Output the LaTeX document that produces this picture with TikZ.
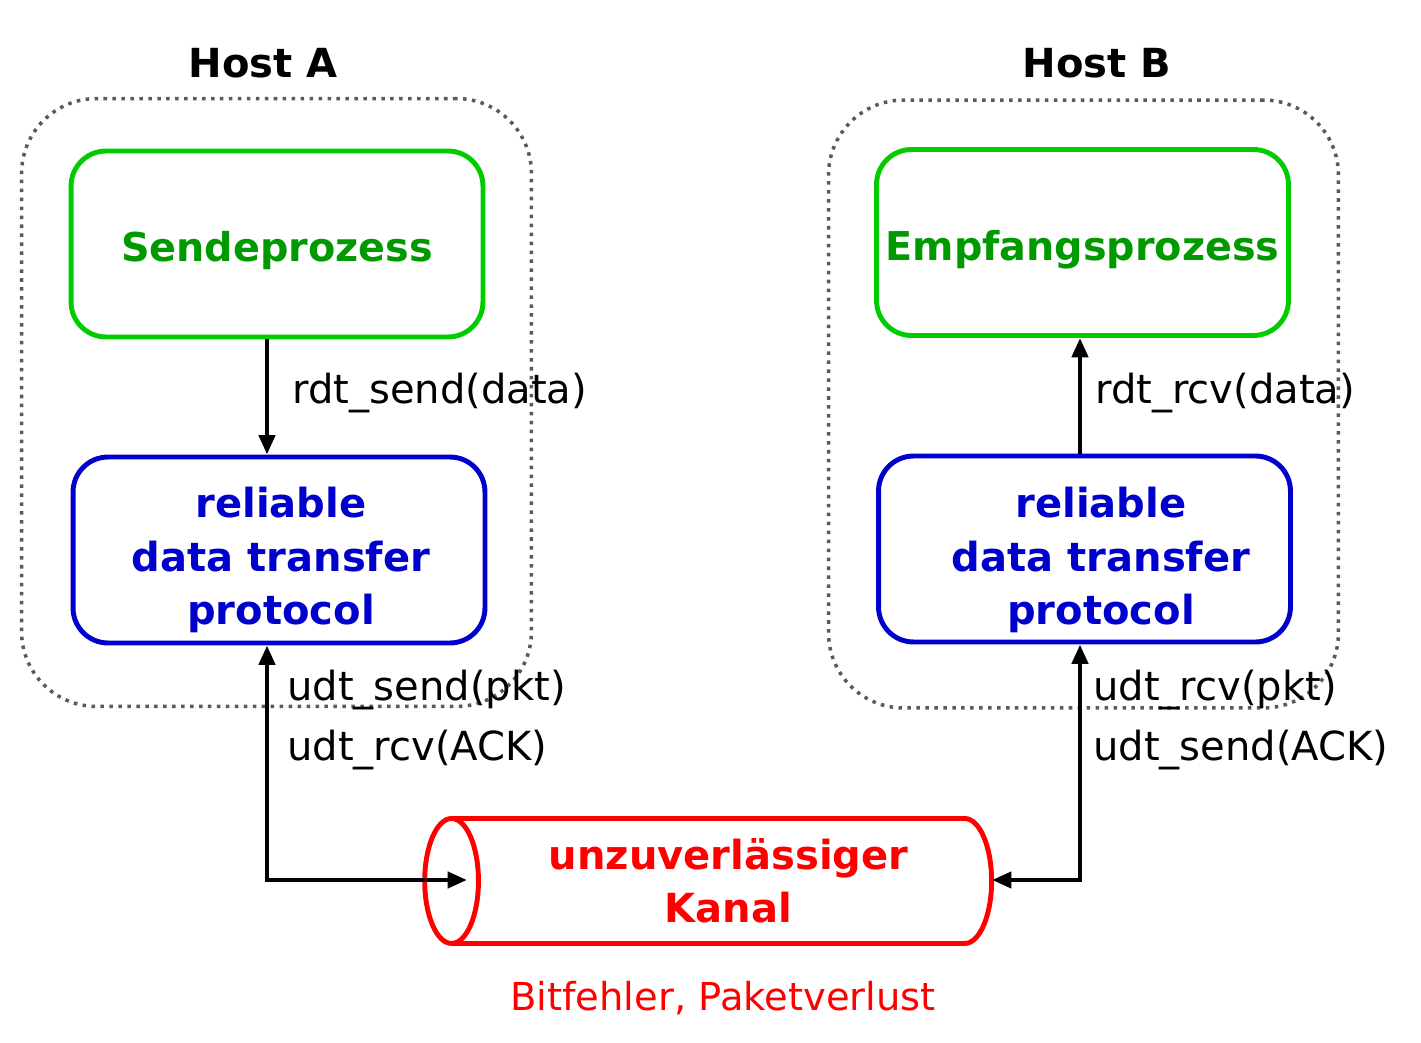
\documentclass[tikz,border=0pt]{standalone}
\usepackage{fontspec}
\setmainfont{DejaVu Sans}
\usetikzlibrary{shapes.geometric,arrows.meta}
\definecolor{procgreen}{RGB}{0,204,0}
\definecolor{proctext}{RGB}{0,153,0}
\definecolor{rdtblue}{RGB}{0,0,204}
\definecolor{hostgray}{RGB}{90,90,90}
\definecolor{kanalred}{RGB}{255,0,0}

\begin{document}
\begin{tikzpicture}[x=0.02cm, y=-0.02cm,
	>={Triangle[length=11pt,width=9pt]},
	hosttitle/.style={inner sep=0, font=\fontsize{22.8}{26}\selectfont\bfseries},
	hostbox/.style={draw=hostgray, line width=2pt, dash pattern=on 2pt off 3.1pt,
		rounded corners=1.5cm, minimum width=10.2cm, minimum height=12.16cm},
	procbox/.style={draw=procgreen, line width=2.8pt, rounded corners=0.7cm,
		minimum width=8.24cm, minimum height=3.72cm, text=proctext,
		font=\fontsize{22.6}{26}\selectfont\bfseries},
	rdtbox/.style={draw=rdtblue, line width=2.8pt, rounded corners=0.7cm,
		minimum width=8.24cm, minimum height=3.72cm},
	rdttext/.style={text=rdtblue, align=center, inner sep=0,
		font=\fontsize{22.8}{30.4}\selectfont\bfseries},
	lbl/.style={anchor=west, inner sep=0, align=left, font=\fontsize{22.8}{34.7}\selectfont},
	conn/.style={line width=2.6pt}
]
\useasboundingbox (0,0) rectangle (1421,1043);

% hosts
\node[hosttitle] (titleA) at (263,63) {Host A};
\node[hosttitle] (titleB) at (1097,63) {Host B};
\node[hostbox] (hostA) at (276.5,402.5) {};
\node[hostbox] (hostB) at (1083.5,404) {};

% processes and protocols
\node[procbox] (sende) at (277,244) {\raisebox{-10pt}[0pt][0pt]{Sendeprozess}};
\node[procbox] (empf) at (1082.5,242.5) {\raisebox{-10pt}[0pt][0pt]{Empfangsprozess}};
\node[rdtbox] (rdtA) at (279,550) {};
\node[rdttext] at (281,560) {reliable\\data transfer\\protocol};
\node[rdtbox] (rdtB) at (1084.5,549) {};
\node[rdttext] at (1101,560) {reliable\\data transfer\\protocol};

% channel
\node[cylinder, shape border rotate=180, draw=kanalred, line width=2.8pt, aspect=0.56,
	minimum height=11.34cm, minimum width=2.5cm, text=kanalred, align=center,
	font=\fontsize{22.8}{30}\selectfont\bfseries] (kanal) at (728.5,881)
	{unzuverlässiger\\Kanal};
\node[text=kanalred, inner sep=0, font=\fontsize{21.9}{26}\selectfont] (fehler) at (723,998)
	{Bitfehler, Paketverlust};

\coordinate (cA) at (267,880);
\coordinate (cB) at (1080,880);
\coordinate (kA) at (467,880);
\coordinate (kB) at (992,880);

% connectors
\draw[conn,->] (sende.south -| cA) -- (rdtA.north -| cA);
\draw[conn,->] (rdtB.north -| cB) -- (empf.south -| cB);
\draw[conn,<->] (rdtA.south -| cA) -- (cA) -- (kA);
\draw[conn,<->] (rdtB.south -| cB) -- (cB) -- (kB);

% labels
\node[lbl] (lblSend) at (292,393) {rdt\_send(data)};
\node[lbl] (lblRcv) at (1095,393) {rdt\_rcv(data)};
\node[lbl] (lblA) at (287,720) {udt\_send(pkt)\\udt\_rcv(ACK)};
\node[lbl] (lblB) at (1093,720) {udt\_rcv(pkt)\\udt\_send(ACK)};
\end{tikzpicture}
\end{document}
